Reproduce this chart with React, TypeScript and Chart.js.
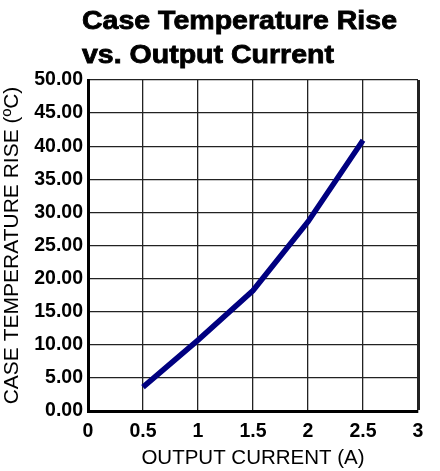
import React, { useEffect, useRef } from "react";
import { Chart, registerables } from "chart.js";

Chart.register(...registerables);

const titleLines = ["Case Temperature Rise", "vs. Output Current"];
const xAxisTitle = "OUTPUT CURRENT (A)";
const yAxisTitle = "CASE TEMPERATURE RISE (ºC)";
const currents = [0.5, 1, 1.5, 2, 2.5];
const tempRise = [3.6, 10.7, 18.2, 28.6, 40.9];

const FONT = "'Liberation Sans', Arial, sans-serif";

const titlePlugin = {
  id: "leftTitle",
  afterDraw(chart: any) {
    const ctx = chart.ctx;
    ctx.save();
    ctx.fillStyle = "#000";
    ctx.strokeStyle = "#000";
    ctx.lineWidth = 0.8;
    ctx.font = `bold 25px ${FONT}`;
    ctx.textAlign = "left";
    ctx.textBaseline = "alphabetic";
    const x = chart.chartArea.left - 6;
    const w = ctx.measureText(titleLines[0]).width;
    const sx = 315 / w;
    titleLines.forEach((line, i) => {
      ctx.save();
      ctx.translate(x, 29 + i * 34);
      ctx.scale(sx, 1);
      ctx.fillText(line, 0, 0);
      ctx.strokeText(line, 0, 0);
      ctx.restore();
    });
    ctx.restore();
  },
};

export default function App() {
  const ref = useRef<HTMLCanvasElement>(null);
  useEffect(() => {
    if (!ref.current) return;
    const chart = new Chart(ref.current, {
      type: "line",
      data: {
        datasets: [
          {
            data: currents.map((c, i) => ({ x: c, y: tempRise[i] })),
            borderColor: "#000080",
            borderWidth: 5.5,
            pointRadius: 0,
            fill: false,
            tension: 0,
          },
        ],
      },
      options: {
        responsive: false,
        animation: false,
        layout: { padding: { top: 80, right: 22, left: 0, bottom: 0 } },
        plugins: { legend: { display: false }, tooltip: { enabled: false }, title: { display: false } },
        scales: {
          x: {
            type: "linear",
            min: 0,
            max: 3,
            afterFit: (s: any) => {
              s.height = 60;
            },
            ticks: {
              stepSize: 0.5,
              color: "#000",
              font: { family: FONT, size: 19.5, weight: "bold" },
              padding: 9,
              maxRotation: 0,
              callback: (v: any) => String(v),
            },
            grid: {
              color: "#222",
              lineWidth: (c: any) => (c.tick && c.tick.value === 3 ? 3 : 1.3),
              drawTicks: false,
            },
            border: { color: "#000", width: 3 },
            title: {
              display: true,
              text: xAxisTitle,
              color: "#000",
              font: { family: FONT, size: 20.5 },
              padding: { top: 0, bottom: 0 },
            },
          },
          y: {
            min: 0,
            max: 50,
            afterFit: (s: any) => {
              s.width = 88;
            },
            ticks: {
              stepSize: 5,
              color: "#000",
              font: { family: FONT, size: 19.5, weight: "bold" },
              padding: 5,
              callback: (v: any) => Number(v).toFixed(2),
            },
            grid: { color: "#222", lineWidth: 1.3, drawTicks: false },
            border: { color: "#000", width: 3 },
            title: {
              display: true,
              text: yAxisTitle,
              color: "#000",
              font: { family: FONT, size: 21 },
              padding: { top: 0, bottom: 0 },
            },
          },
        },
      },
      plugins: [titlePlugin],
    } as any);
    return () => chart.destroy();
  }, []);
  return (
    <div style={{ position: "absolute", left: 0, top: 0, width: 440, height: 471, background: "#fff" }}>
      <canvas ref={ref} width={440} height={471} style={{ width: 440, height: 471, display: "block" }} />
    </div>
  );
}
